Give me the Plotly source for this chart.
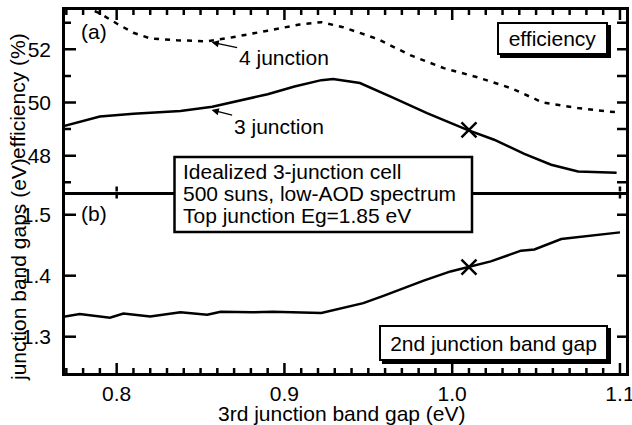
import plotly.graph_objects as go

# ---- data ----
eg3_3j = [0.769, 0.790, 0.810, 0.838, 0.857, 0.874, 0.890, 0.906, 0.922, 0.929,
          0.945, 0.965, 0.985, 1.009, 1.025, 1.043, 1.059, 1.075, 1.098]
eff_3j = [49.12, 49.47, 49.58, 49.68, 49.84, 50.09, 50.31, 50.60, 50.84, 50.88,
          50.73, 50.17, 49.60, 48.97, 48.60, 48.07, 47.66, 47.41, 47.36]

eg3_4j = [0.769, 0.790, 0.800, 0.810, 0.820, 0.836, 0.854, 0.869, 0.890, 0.909,
          0.922, 0.935, 0.955, 0.975, 0.995, 1.015, 1.035, 1.054, 1.075, 1.094, 1.100]
eff_4j = [53.95, 53.35, 52.97, 52.62, 52.41, 52.34, 52.30, 52.45, 52.70, 52.93,
          53.02, 52.83, 52.40, 51.78, 51.29, 50.95, 50.54, 50.00, 49.79, 49.65, 49.64]

eg3_gap = [0.769, 0.778, 0.796, 0.804, 0.820, 0.838, 0.854, 0.862, 0.881, 0.893,
           0.922, 0.935, 0.947, 0.959, 0.971, 0.983, 0.999, 1.009, 1.023, 1.041,
           1.049, 1.065, 1.080, 1.100]
eg2_gap = [1.333, 1.337, 1.331, 1.338, 1.333, 1.340, 1.336, 1.341, 1.340, 1.341,
           1.339, 1.347, 1.355, 1.367, 1.380, 1.392, 1.407, 1.414, 1.4235, 1.441,
           1.443, 1.460, 1.465, 1.471]

marker_eg3 = [1.01]
marker_eff = [48.97]
marker_eg2 = [1.414]

# tick positions
x_major = [0.8, 0.9, 1.0, 1.1]
x_minor = [0.77, 0.78, 0.79, 0.81, 0.82, 0.83, 0.84, 0.85, 0.86, 0.87, 0.88, 0.89,
           0.91, 0.92, 0.93, 0.94, 0.95, 0.96, 0.97, 0.98, 0.99,
           1.01, 1.02, 1.03, 1.04, 1.05, 1.06, 1.07, 1.08, 1.09]
eff_major = [48, 50, 52]
eff_minor = [47, 49, 51, 53]
gap_major = [1.3, 1.4, 1.5]

x_range = [0.7692, 1.1036]
eff_range = [46.654, 53.477]
gap_range = [1.2405, 1.538]

FONT = "Liberation Sans, Arial, Helvetica, sans-serif"
FS = 21
BLACK = "black"

# figure geometry (pixels)
W, H = 632, 425
ML, MR, MT, MB = 65, 6, 10, 52
PW, PH = W - ML - MR, H - MT - MB
# data units per pixel, for tick lengths
ux = (x_range[1] - x_range[0]) / PW
u_eff = (eff_range[1] - eff_range[0]) / (PH / 2)
u_gap = (gap_range[1] - gap_range[0]) / (PH / 2)

fig = go.Figure()
fig.add_trace(go.Scatter(x=eg3_4j, y=eff_4j, mode="lines", xaxis="x", yaxis="y",
                         line=dict(color=BLACK, width=2.5, dash="5px,6px"), showlegend=False))
fig.add_trace(go.Scatter(x=eg3_3j, y=eff_3j, mode="lines", xaxis="x", yaxis="y",
                         line=dict(color=BLACK, width=2.5), showlegend=False))
fig.add_trace(go.Scatter(x=marker_eg3, y=marker_eff, mode="markers", xaxis="x", yaxis="y",
                         marker=dict(symbol="x-thin", size=15, line=dict(color=BLACK, width=2.5)),
                         showlegend=False))
fig.add_trace(go.Scatter(x=eg3_gap, y=eg2_gap, mode="lines", xaxis="x2", yaxis="y2",
                         line=dict(color=BLACK, width=2.5), showlegend=False))
fig.add_trace(go.Scatter(x=marker_eg3, y=marker_eg2, mode="markers", xaxis="x2", yaxis="y2",
                         marker=dict(symbol="x-thin", size=15, line=dict(color=BLACK, width=2.5)),
                         showlegend=False))

# ---- tick marks, built from the tick arrays as line segments ----
x_lo, x_hi = x_range
tx1, ty1 = [], []   # top panel
tx2, ty2 = [], []   # bottom panel


def add(xs, ys, xa, ya):
    xs += [xa[0], xa[1], None]
    ys += [ya[0], ya[1], None]


for v in x_major:
    add(tx1, ty1, (v, v), (eff_range[1], eff_range[1] - 10 * u_eff))   # top border
    add(tx1, ty1, (v, v), (eff_range[0], eff_range[0] + 5 * u_eff))    # separator, up
    add(tx2, ty2, (v, v), (gap_range[1], gap_range[1] - 7 * u_gap))    # separator, down
    add(tx2, ty2, (v, v), (gap_range[0], gap_range[0] + 10 * u_gap))   # bottom axis
for v in x_minor:
    add(tx1, ty1, (v, v), (eff_range[1], eff_range[1] - 5 * u_eff))
    add(tx2, ty2, (v, v), (gap_range[0], gap_range[0] + 5 * u_gap))
for v in eff_major:
    add(tx1, ty1, (x_lo, x_lo + 11 * ux), (v, v))
    add(tx1, ty1, (x_hi, x_hi - 9 * ux), (v, v))
for v in eff_minor:
    add(tx1, ty1, (x_lo, x_lo + 6 * ux), (v, v))
    add(tx1, ty1, (x_hi, x_hi - 9 * ux), (v, v))
for v in gap_major:
    add(tx2, ty2, (x_lo, x_lo + 11 * ux), (v, v))
    add(tx2, ty2, (x_hi, x_hi - 9 * ux), (v, v))

fig.add_trace(go.Scatter(x=tx1, y=ty1, mode="lines", xaxis="x", yaxis="y",
                         line=dict(color=BLACK, width=2.5), showlegend=False,
                         hoverinfo="skip", connectgaps=False))
fig.add_trace(go.Scatter(x=tx2, y=ty2, mode="lines", xaxis="x2", yaxis="y2",
                         line=dict(color=BLACK, width=2.5), showlegend=False,
                         hoverinfo="skip", connectgaps=False))

tickfont = dict(family=FONT, size=FS, color=BLACK)
common_x = dict(range=x_range, autorange=False, showgrid=False, zeroline=False,
                linecolor=BLACK, linewidth=2.5, showline=True, ticks="",
                tickmode="array", tickvals=x_major)

fig.update_layout(
    template="none",
    width=W, height=H,
    margin=dict(l=ML, r=MR, t=MT, b=MB),
    paper_bgcolor="white", plot_bgcolor="white",
    font=dict(family=FONT, size=FS, color=BLACK),
    showlegend=False,
    xaxis=dict(**common_x, anchor="y", side="bottom", mirror=True, showticklabels=False),
    xaxis2=dict(**common_x, anchor="y2", side="bottom", mirror=False,
                ticktext=["0.8", "0.9", "1.0", "1.1"], tickfont=tickfont,
                ticklabeloverflow="allow"),
    yaxis=dict(domain=[0.5, 1.0], range=eff_range, autorange=False, anchor="x",
               showgrid=False, zeroline=False, showline=True, linecolor=BLACK,
               linewidth=2.5, mirror=True, ticks="", tickmode="array",
               tickvals=eff_major, tickfont=tickfont, ticklabelstandoff=7),
    yaxis2=dict(domain=[0.0, 0.5], range=gap_range, autorange=False, anchor="x2",
                showgrid=False, zeroline=False, showline=True, linecolor=BLACK,
                linewidth=2.5, mirror=True, ticks="", tickmode="array",
                tickvals=gap_major, ticktext=["1.3", "1.4", "1.5"], tickfont=tickfont,
                ticklabelstandoff=7),
)

# info box (covers the separator line)
fig.add_shape(type="rect", xref="paper", yref="paper",
              x0=(174.5 - ML) / PW, x1=(472 - ML) / PW,
              y0=(H - MB - 232) / PH, y1=(H - MB - 157) / PH,
              line=dict(color=BLACK, width=2.5), fillcolor="white", layer="above")


def px2paper(px, py):
    return (px - ML) / PW, (H - MB - py) / PH


ann = []
# axis titles
tx, ty = px2paper(342, 413)
ann.append(dict(text="3rd junction band gap (eV)", x=tx, y=ty, xref="paper", yref="paper",
                xanchor="center", yanchor="middle", showarrow=False, font=tickfont))
tx, ty = px2paper(18, 96)
ann.append(dict(text="efficiency (%)", x=tx, y=ty, xref="paper", yref="paper",
                xanchor="center", yanchor="middle", textangle=-90, showarrow=False,
                font=tickfont))
tx, ty = px2paper(18, 270)
ann.append(dict(text="junction band gaps (eV)", x=tx, y=ty, xref="paper", yref="paper",
                xanchor="center", yanchor="middle", textangle=-90, showarrow=False,
                font=tickfont))
# panel labels
ann.append(dict(text="(a)", x=0.7775, y=52.66, xref="x", yref="y", xanchor="left",
                yanchor="middle", showarrow=False, font=tickfont))
ann.append(dict(text="(b)", x=0.7775, y=1.502, xref="x2", yref="y2", xanchor="left",
                yanchor="middle", showarrow=False, font=tickfont))
# curve labels with arrows
ann.append(dict(text="4 junction", x=0.8566, y=52.263, xref="x", yref="y",
                ax=72, ay=15, showarrow=True, arrowhead=2, arrowsize=1.1, arrowwidth=1.3,
                arrowcolor=BLACK, font=tickfont))
ann.append(dict(text="3 junction", x=0.8566, y=49.718, xref="x", yref="y",
                ax=67, ay=17, showarrow=True, arrowhead=2, arrowsize=1.1, arrowwidth=1.3,
                arrowcolor=BLACK, font=tickfont))


def boxed(text, cx, cy, w, h):
    px, py = px2paper(cx, cy)
    base = dict(x=px, y=py, xref="paper", yref="paper", xanchor="center",
                yanchor="middle", showarrow=False, font=tickfont, width=w, height=h,
                borderpad=1, borderwidth=2)
    shadow = dict(base, text=" ", bgcolor=BLACK, bordercolor=BLACK, xshift=3, yshift=-3)
    front = dict(base, text=text, bgcolor="white", bordercolor=BLACK)
    return [shadow, front]


ann += boxed("efficiency", 552, 38, 105, 27)
ann += boxed("2nd junction band gap", 493.5, 343, 223, 30)

info_lines = ["Idealized 3-junction cell", "500 suns, low-AOD spectrum",
              "Top junction Eg=1.85 eV"]
for i, line in enumerate(info_lines):
    tx, ty = px2paper(181, 171.5 + 22 * i)
    ann.append(dict(text=line, x=tx, y=ty, xref="paper", yref="paper", xanchor="left",
                    yanchor="middle", showarrow=False, font=tickfont))
fig.update_layout(annotations=ann)

fig.write_html("out.html")
